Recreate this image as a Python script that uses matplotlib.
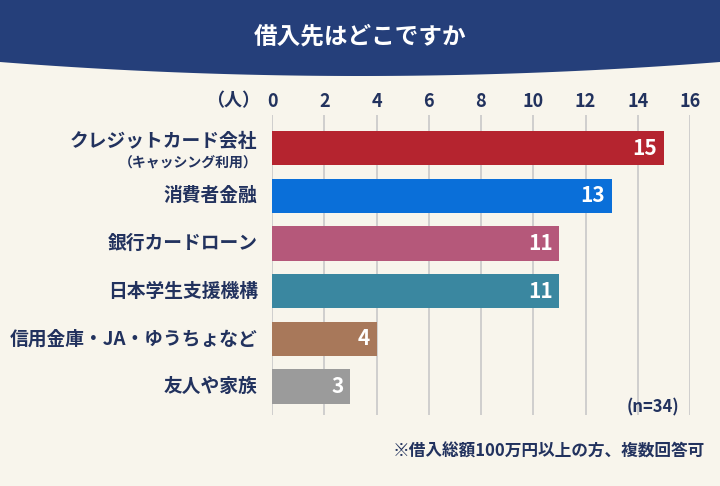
import matplotlib
matplotlib.use("Agg")
import matplotlib.pyplot as plt
import numpy as np
from matplotlib.patches import Polygon

plt.rcParams["font.family"] = "Noto Sans CJK JP"

categories = ["クレジットカード会社", "消費者金融", "銀行カードローン", "日本学生支援機構", "信用金庫・JA・ゆうちょなど", "友人や家族"]
values = [15, 13, 11, 11, 4, 3]
colors = ["#b5242f", "#0a6fd9", "#b5587a", "#3a87a0", "#a8785a", "#9b9b9b"]
ticks = [0, 2, 4, 6, 8, 10, 12, 14, 16]
txt = "#22325e"

fig = plt.figure(figsize=(7.2, 4.86), dpi=100)
fig.patch.set_facecolor("#f8f5ec")

xs = np.linspace(0, 1, 100)
ybot = 1 - (62 + 14 * (1 - (2 * xs - 1) ** 2)) / 486
pts = [(0, 1), (1, 1)] + [(x, y) for x, y in zip(xs[::-1], ybot[::-1])]
fig.patches.append(Polygon(pts, closed=True, transform=fig.transFigure, facecolor="#253f7a", edgecolor="none"))
fig.text(0.5, 1 - 36 / 486, "借入先はどこですか", ha="center", va="center", color="white", fontsize=17, fontweight="bold")

ax = fig.add_axes([272 / 720, 1 - 415 / 486, (690 - 272) / 720, 300 / 486])
ax.set_facecolor("none")
y = np.arange(len(categories))
ax.barh(y, values, height=0.72, color=colors, zorder=3)
for yi, v in zip(y, values):
    ax.text(v - 0.25, yi, str(v), ha="right", va="center", color="white", fontsize=15, fontweight="bold", zorder=4)
ax.set_xlim(0, 16)
ax.set_ylim(5.6, -0.7)
ax.set_xticks(ticks)
ax.xaxis.tick_top()
ax.tick_params(axis="x", length=0, labelsize=13, colors=txt, pad=3)
for lb in ax.get_xticklabels():
    lb.set_fontweight("bold")
ax.set_yticks([])
for t in ticks:
    ax.axvline(t, color="#c8c8c8", lw=1.2, zorder=1)
for s in ax.spines.values():
    s.set_visible(False)
ax.text(-0.45, -1.0, "（人）", ha="right", va="center", fontsize=13, color=txt, fontweight="bold", clip_on=False)

for yi, c in zip(y, categories):
    if yi == 0:
        ax.text(-0.55, yi - 0.15, c, ha="right", va="center", fontsize=13.5, color=txt, fontweight="bold")
        ax.text(-0.55, yi + 0.33, "（キャッシング利用）", ha="right", va="center", fontsize=10, color=txt, fontweight="bold")
    else:
        ax.text(-0.55, yi, c, ha="right", va="center", fontsize=13.5, color=txt, fontweight="bold")

ax.text(15.6, 5.45, "(n=34)", ha="right", va="center", fontsize=12, color=txt, fontweight="bold")
fig.text(705 / 720, 1 - 452 / 486, "※借入総額100万円以上の方、複数回答可", ha="right", va="center", fontsize=12, color=txt, fontweight="bold")

fig.savefig("out.png", dpi=100, facecolor=fig.get_facecolor())
